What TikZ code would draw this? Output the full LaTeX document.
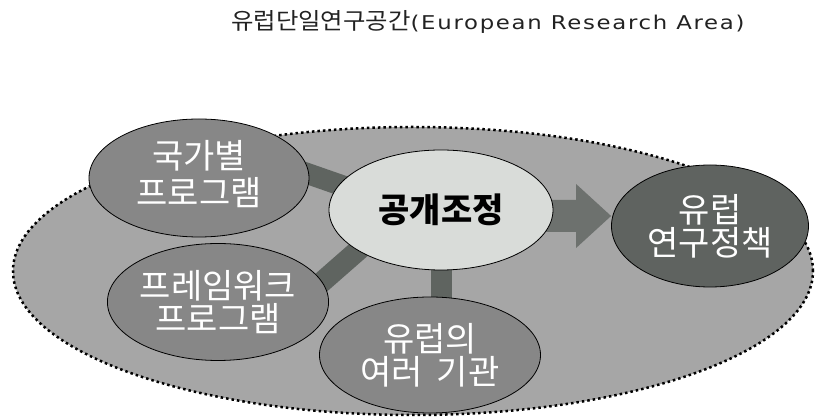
\documentclass[tikz,border=0pt]{standalone}
\usepackage{fontspec}
\setmainfont{Noto Sans CJK KR}
\newfontfamily\titlekr[FakeStretch=1.06]{Noto Sans CJK KR}
\newfontfamily\latinfont[LetterSpace=9,FakeStretch=1.2]{DejaVu Sans}
\usetikzlibrary{shapes.geometric}
\pgfdeclarelayer{bg}
\pgfdeclarelayer{mid}
\pgfsetlayers{bg,mid,main}
\definecolor{areagray}{HTML}{A6A6A6}
\definecolor{nodegray}{HTML}{878787}
\definecolor{darknode}{HTML}{5F6360}
\definecolor{lightnode}{HTML}{D9DCD9}
\definecolor{conncol}{HTML}{5F6460}
\definecolor{arrowcol}{HTML}{6D716E}
\definecolor{titlecol}{HTML}{222222}
\tikzset{
  areastyle/.style={ellipse, draw=black, fill=areagray, line width=2.5pt,
    dash pattern=on 2.5pt off 3pt, inner sep=0pt},
  bubble/.style={ellipse, draw=black, line width=0.8pt, inner sep=0pt,
    align=center, font=\fontsize{34pt}{33pt}\selectfont},
  graybubble/.style={bubble, fill=nodegray, text=white},
  darkbubble/.style={bubble, fill=darknode, text=white},
  lightbubble/.style={bubble, fill=lightnode, text=black, font=\fontsize{34pt}{33pt}\selectfont\bfseries},
  connector/.style={draw=conncol, line width=21pt},
  titlestyle/.style={font=\titlekr\fontsize{23pt}{25pt}\selectfont, text=titlecol, inner sep=0pt}
}
\begin{document}
\begin{tikzpicture}[x=1pt,y=-1pt]
\useasboundingbox (0,0) rectangle (815,419);
\node[titlestyle, anchor=base west] (title) at (231,30) {유럽단일연구공간{\latinfont\fontsize{19pt}{20pt}\selectfont(European Research Area)}};

\node[graybubble, minimum width=220pt, minimum height=118pt] (kuk) at (199,178) {\raisebox{4pt}{\begin{tabular}{@{}c@{}}국가별\\[-1pt]프로그램\end{tabular}}};
\node[graybubble, minimum width=221pt, minimum height=117pt] (frame) at (218,302) {프레임워크\\프로그램};
\node[lightbubble, minimum width=224pt, minimum height=120pt] (open) at (441,210) {공개조정};
\node[graybubble, minimum width=221pt, minimum height=116pt] (inst) at (430,355) {유럽의\\여러\hspace{.4em}기관};
\node[darkbubble, minimum width=197pt, minimum height=122pt] (policy) at (710,226) {유럽\\연구정책};

\begin{pgfonlayer}{bg}
\node[areastyle, minimum width=800pt, minimum height=288pt] (area) at (413,271) {};
\end{pgfonlayer}

\begin{pgfonlayer}{mid}
\draw[connector, shorten <=-8pt, shorten >=-8pt] (kuk.2) -- (open.166);
\draw[connector, shorten <=-8pt, shorten >=-8pt] (frame.11) -- (open.206);
\draw[connector, shorten <=-8pt, shorten >=-8pt] (open.south) -- (open.south |- inst.north);
\coordinate (as) at ([xshift=-10pt,yshift=-6pt]open.east);
\coordinate (at) at (as -| policy.west);
\fill[arrowcol] ([yshift=16pt]as) -- ([xshift=-35pt,yshift=16pt]at) -- ([xshift=-35pt,yshift=32pt]at)
  -- (at) -- ([xshift=-35pt,yshift=-32pt]at) -- ([xshift=-35pt,yshift=-16pt]at)
  -- ([yshift=-16pt]as) -- cycle;
\end{pgfonlayer}
\end{tikzpicture}
\end{document}
